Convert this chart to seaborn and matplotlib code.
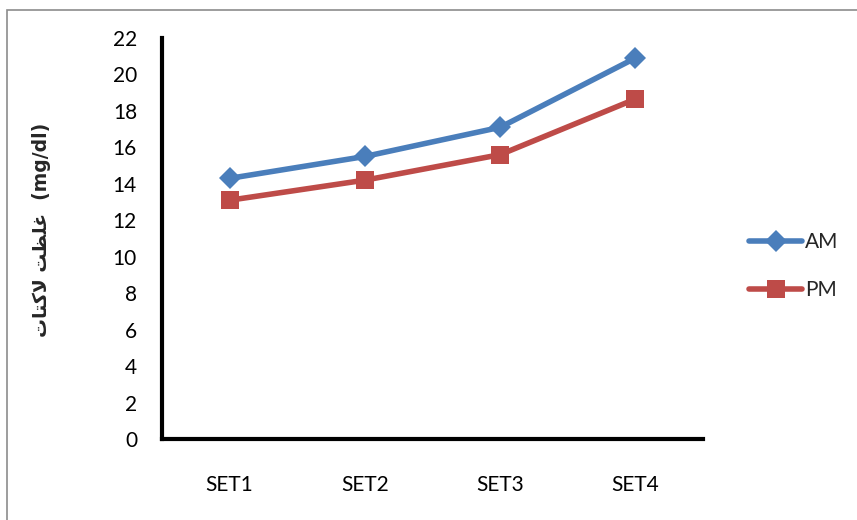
import matplotlib
matplotlib.use("Agg")
import matplotlib.pyplot as plt
import matplotlib.patches as mpatches
import pandas as pd
import seaborn as sns

# Lactate concentration per set, morning vs evening
sets = ["SET1", "SET2", "SET3", "SET4"]
am_values = [14.3, 15.5, 17.1, 20.9]
pm_values = [13.1, 14.2, 15.6, 18.65]
y_ticks = list(range(0, 23, 2))

df = pd.DataFrame({
    "set": sets * 2,
    "value": am_values + pm_values,
    "session": ["AM"] * len(sets) + ["PM"] * len(sets),
})

sns.set_theme(style="white")
plt.rcParams["font.family"] = ["Lato", "DejaVu Sans"]

fig = plt.figure(figsize=(8.57, 5.20), dpi=100)
ax = fig.add_axes([162 / 857, 1 - 439 / 520, 541 / 857, 401 / 520])

palette = {"AM": "#4A7EBB", "PM": "#BE4B48"}
markers = {"AM": "D", "PM": "s"}
marker_sizes = {"D": 11.5, "s": 13}
sns.lineplot(data=df, x="set", y="value", hue="session", style="session",
             palette=palette, markers=markers, dashes=False, ax=ax,
             linewidth=4.0, markersize=12, markeredgewidth=0, sort=False)
for line in ax.lines:
    if line.get_marker() in marker_sizes:
        line.set_markersize(marker_sizes[line.get_marker()])

ax.set_xlim(-0.5, 3.5)
ax.set_ylim(0, 22)
ax.set_yticks(y_ticks)
ax.set_xlabel("")
ax.set_ylabel("")
ax.tick_params(axis="both", length=0, labelsize=15, colors="black")
ax.tick_params(axis="y", pad=18)
ax.tick_params(axis="x", pad=26)
for side in ("top", "right"):
    ax.spines[side].set_visible(False)
for side in ("left", "bottom"):
    ax.spines[side].set_color("black")
    ax.spines[side].set_linewidth(3.0)

# Persian axis title, glyphs given in shaped visual order
arabic = "\uFE95\uFE8E\uFE98\uFB90\uFEFB \uFE96\uFEC8\uFEE0\uFECF"
fig.text(42 / 857, 1 - 230 / 520, arabic + "  (mg/dl)", rotation=90,
         ha="center", va="center", fontsize=13.5, fontweight="bold",
         family=["DejaVu Sans"])

leg = ax.legend(loc="center left", bbox_to_anchor=(741 / 857, 1 - 266 / 520),
                bbox_transform=fig.transFigure, frameon=False, fontsize=15,
                handlelength=2.55, labelspacing=1.35, handletextpad=0.12,
                borderaxespad=0, markerscale=1.0)
for handle in leg.legend_handles:
    if handle.get_marker() in marker_sizes:
        handle.set_markersize(marker_sizes[handle.get_marker()])

# thin grey frame around the chart area
fig.patches.append(mpatches.Rectangle((7.5 / 857, -0.1), 1.2, 1 - 9.5 / 520 + 0.1,
                                      transform=fig.transFigure, fill=False,
                                      edgecolor="#8c8c8c", linewidth=1.2,
                                      clip_on=False))

fig.savefig("out.png", dpi=100)
